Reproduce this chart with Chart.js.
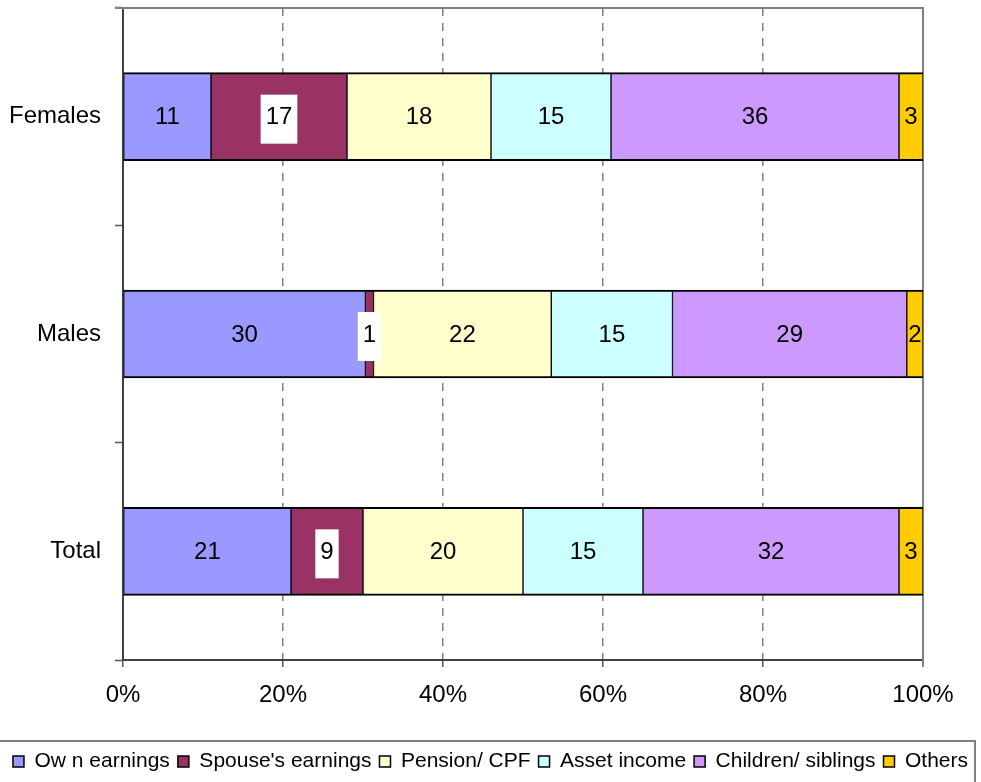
<!DOCTYPE html>
<html>
<head>
<meta charset="utf-8">
<script src="https://cdn.jsdelivr.net/npm/chart.js@4/dist/chart.umd.min.js"></script>
<style>
  html, body { margin: 0; padding: 0; background: #fff; }
  #wrap { width: 981px; height: 782px; }
</style>
</head>
<body>
<div id="wrap"><canvas id="c" width="981" height="782"></canvas></div>
<script>
// Main source of income, by sex (per cent)
const groups = ['Females', 'Males', 'Total'];
const seriesNames = ['Ow n earnings', "Spouse's earnings", 'Pension/ CPF', 'Asset income', 'Children/ siblings', 'Others'];
const ownEarnings      = [11, 30, 21];
const spouseEarnings   = [17, 1, 9];
const pensionCpf       = [18, 22, 20];
const assetIncome      = [15, 15, 15];
const childrenSiblings = [36, 29, 32];
const others           = [3, 2, 3];
const percentTicks = [0, 20, 40, 60, 80, 100];

const seriesValues = [ownEarnings, spouseEarnings, pensionCpf, assetIncome, childrenSiblings, others];
const seriesColors = ['#9999FF', '#993366', '#FFFFCC', '#CCFFFF', '#CC99FF', '#FFCC00'];
const boxedLabels = [false, true, false, false, false, false];

const FONT = '"Liberation Sans", Arial, sans-serif';
const PLOT_BOTTOM = 660;
const BOTTOM_PAD = 0;

// each bar is scaled to 100% of its row
const rowTotals = groups.map((_, i) => seriesValues.reduce((s, arr) => s + arr[i], 0));

const datasets = seriesValues.map((vals, k) => ({
  label: seriesNames[k],
  raw: vals,
  boxed: boxedLabels[k],
  data: vals.map((v, i) => v / rowTotals[i] * 100),
  backgroundColor: seriesColors[k],
  borderColor: '#000',
  borderWidth: { top: 2, bottom: 2, left: 1, right: 1 },
  borderSkipped: false,
  barThickness: 88
}));

// numbers written in the middle of each segment
const valueLabels = {
  id: 'valueLabels',
  afterDatasetsDraw(chart) {
    const ctx = chart.ctx;
    ctx.save();
    ctx.font = '24px ' + FONT;
    ctx.textAlign = 'center';
    ctx.textBaseline = 'middle';
    chart.data.datasets.forEach((ds, di) => {
      const meta = chart.getDatasetMeta(di);
      meta.data.forEach((bar, i) => {
        const txt = String(ds.raw[i]);
        const cx = (bar.x + bar.base) / 2;
        const cy = bar.y;
        if (ds.boxed) {
          const w = ctx.measureText(txt).width + 10;
          ctx.fillStyle = '#fff';
          ctx.fillRect(cx - w / 2, cy - 22, w, 49);
        }
        ctx.fillStyle = '#000';
        ctx.fillText(txt, cx, cy + 1);
      });
    });
    ctx.restore();
  }
};

// grey frame on the top and right of the plot area, and round the legend
const frames = {
  id: 'frames',
  beforeDatasetsDraw(chart) {
    const { ctx, chartArea: a } = chart;
    ctx.save();
    ctx.strokeStyle = '#808080';
    ctx.lineWidth = 2;
    ctx.beginPath();
    ctx.moveTo(a.left - 8, a.top);
    ctx.lineTo(a.right, a.top);
    ctx.lineTo(a.right, a.bottom + 7);
    ctx.stroke();
    ctx.restore();
  },
  afterDraw(chart) {
    const ctx = chart.ctx;
    ctx.save();
    ctx.strokeStyle = '#808080';
    ctx.lineWidth = 2;
    ctx.strokeRect(-10, 741, 985, 60);
    ctx.restore();
  }
};

new Chart(document.getElementById('c'), {
  type: 'bar',
  data: { labels: groups, datasets },
  plugins: [frames, valueLabels],
  options: {
    indexAxis: 'y',
    responsive: false,
    animation: false,
    layout: { padding: { top: 8, right: 0, left: 0, bottom: BOTTOM_PAD } },
    scales: {
      x: {
        stacked: true,
        min: 0,
        max: 100,
        afterBuildTicks(scale) {
          scale.ticks = percentTicks.map(v => ({ value: v }));
        },
        afterFit(scale) {
          const ch = scale.chart;
          scale.height = ch.height - PLOT_BOTTOM - ch.legend.height - BOTTOM_PAD;
          scale.paddingLeft = 0;
          scale.paddingRight = 0;
        },
        ticks: {
          callback: v => v + '%',
          color: '#000',
          font: { family: FONT, size: 24 },
          padding: 14,
          maxRotation: 0
        },
        grid: {
          color: '#808080',
          lineWidth: 1.5,
          tickColor: '#555',
          tickLength: 7,
          tickBorderDash: [],
          tickWidth: 1.5
        },
        border: { color: '#404040', width: 2, dash: [8, 7] }
      },
      y: {
        stacked: true,
        afterFit(scale) {
          scale.width = 123;
          scale.paddingTop = 0;
          scale.paddingBottom = 0;
        },
        ticks: {
          color: '#000',
          font: { family: FONT, size: 24 },
          padding: 14
        },
        grid: {
          drawOnChartArea: false,
          tickLength: 8,
          tickColor: '#555',
          tickWidth: 1.5
        },
        border: { color: '#404040', width: 2 }
      },
      // empty margin on the right of the plot
      margin: {
        type: 'linear',
        position: 'right',
        display: true,
        grid: { display: false },
        ticks: { display: false },
        border: { display: false },
        afterFit(scale) {
          scale.width = 58;
          scale.paddingTop = 0;
          scale.paddingBottom = 0;
        }
      }
    },
    plugins: {
      tooltip: { enabled: false },
      legend: {
        position: 'bottom',
        labels: {
          color: '#000',
          font: { family: FONT, size: 21 },
          boxWidth: 11,
          boxHeight: 11,
          padding: 8
        }
      }
    }
  }
});
</script>
</body>
</html>
